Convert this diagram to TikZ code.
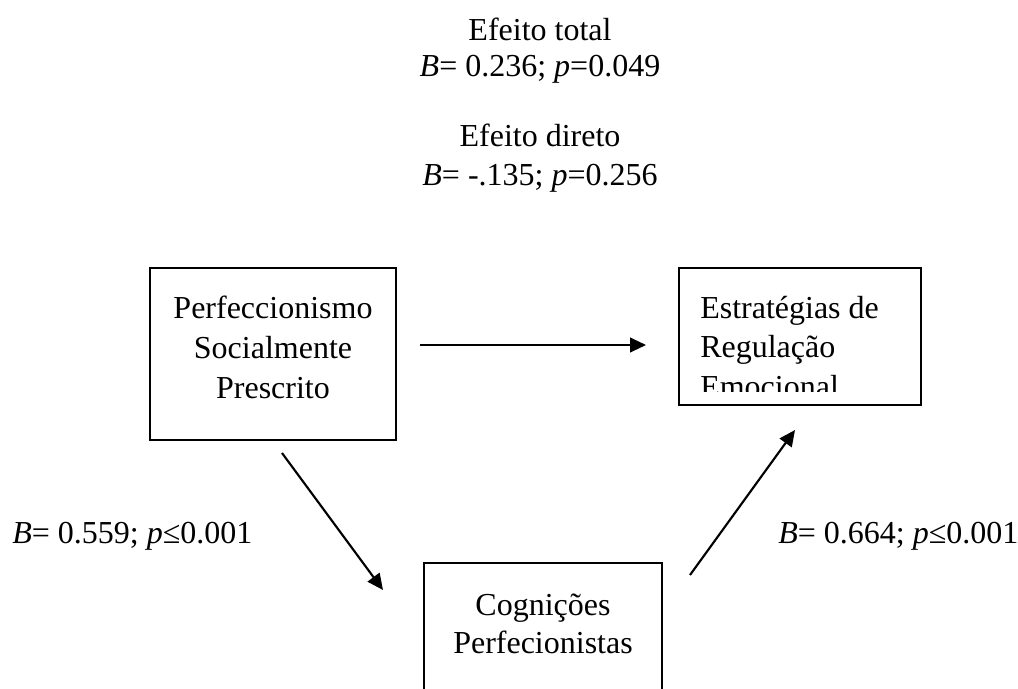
\documentclass[tikz,border=0pt]{standalone}
\usepackage{fontspec}
\setmainfont{Liberation Serif}
\usetikzlibrary{arrows.meta}
\begin{document}
\begin{tikzpicture}[x=0.75pt,y=-0.75pt,
  txt/.style={anchor=base,inner sep=0pt,font=\fontsize{24pt}{30pt}\selectfont},
  txtl/.style={txt,anchor=base west},
  box/.style={draw,line width=1.1pt,inner sep=0pt},
  arr/.style={line width=1.6pt,-{Triangle[length=12pt,width=11pt]}}]
\clip (0,0) rectangle (1018,689);
\fill[white] (0,0) rectangle (1018,689);
% top texts
\node[txt] (tot1) at (540,40) {Efeito total};
\node[txt] (tot2) at (540,76) {\textit{B}= 0.236; \textit{p}=0.049};
\node[txt] (dir1) at (540,146) {Efeito direto};
\node[txt] (dir2) at (540,185) {\textit{B}= -.135; \textit{p}=0.256};
% boxes
\node[box,minimum width=184.5pt,minimum height=129pt] (psp) at (273,354) {};
\node[txt] (psp1) at (273,318) {Perfeccionismo};
\node[txt] (psp2) at (273,358) {Socialmente};
\node[txt] (psp3) at (273,398) {Prescrito};
\node[box,minimum width=181.5pt,minimum height=102.75pt] (ere) at (800,336.5) {};
\begin{scope}
\clip (679,268) rectangle (921,391);
\node[txtl] (ere1) at (700,318) {Estratégias de};
\node[txtl] (ere2) at (700,357) {Regulação};
\node[txtl] (ere3) at (700,397) {Emocional};
\end{scope}
\node[box,minimum width=178.5pt,minimum height=117.75pt] (cp) at (543,641.5) {};
\node[txt] (cp1) at (543,615) {Cognições};
\node[txt] (cp2) at (543,653) {Perfecionistas};
% labels
\node[txtl] (la) at (12,543) {\textit{B}= 0.559; \textit{p}≤0.001};
\node[txtl] (lb) at (778,543) {\textit{B}= 0.664; \textit{p}≤0.001};
% arrows
\coordinate (h1) at (420,345);
\coordinate (h2) at (646,345);
\coordinate (d1) at (282,453);
\coordinate (d2) at (383,590);
\coordinate (u1) at (690,575);
\coordinate (u2) at (795,430);
\draw[arr] (h1) -- (h2);
\draw[arr] (d1) -- (d2);
\draw[arr] (u1) -- (u2);
\end{tikzpicture}
\end{document}
